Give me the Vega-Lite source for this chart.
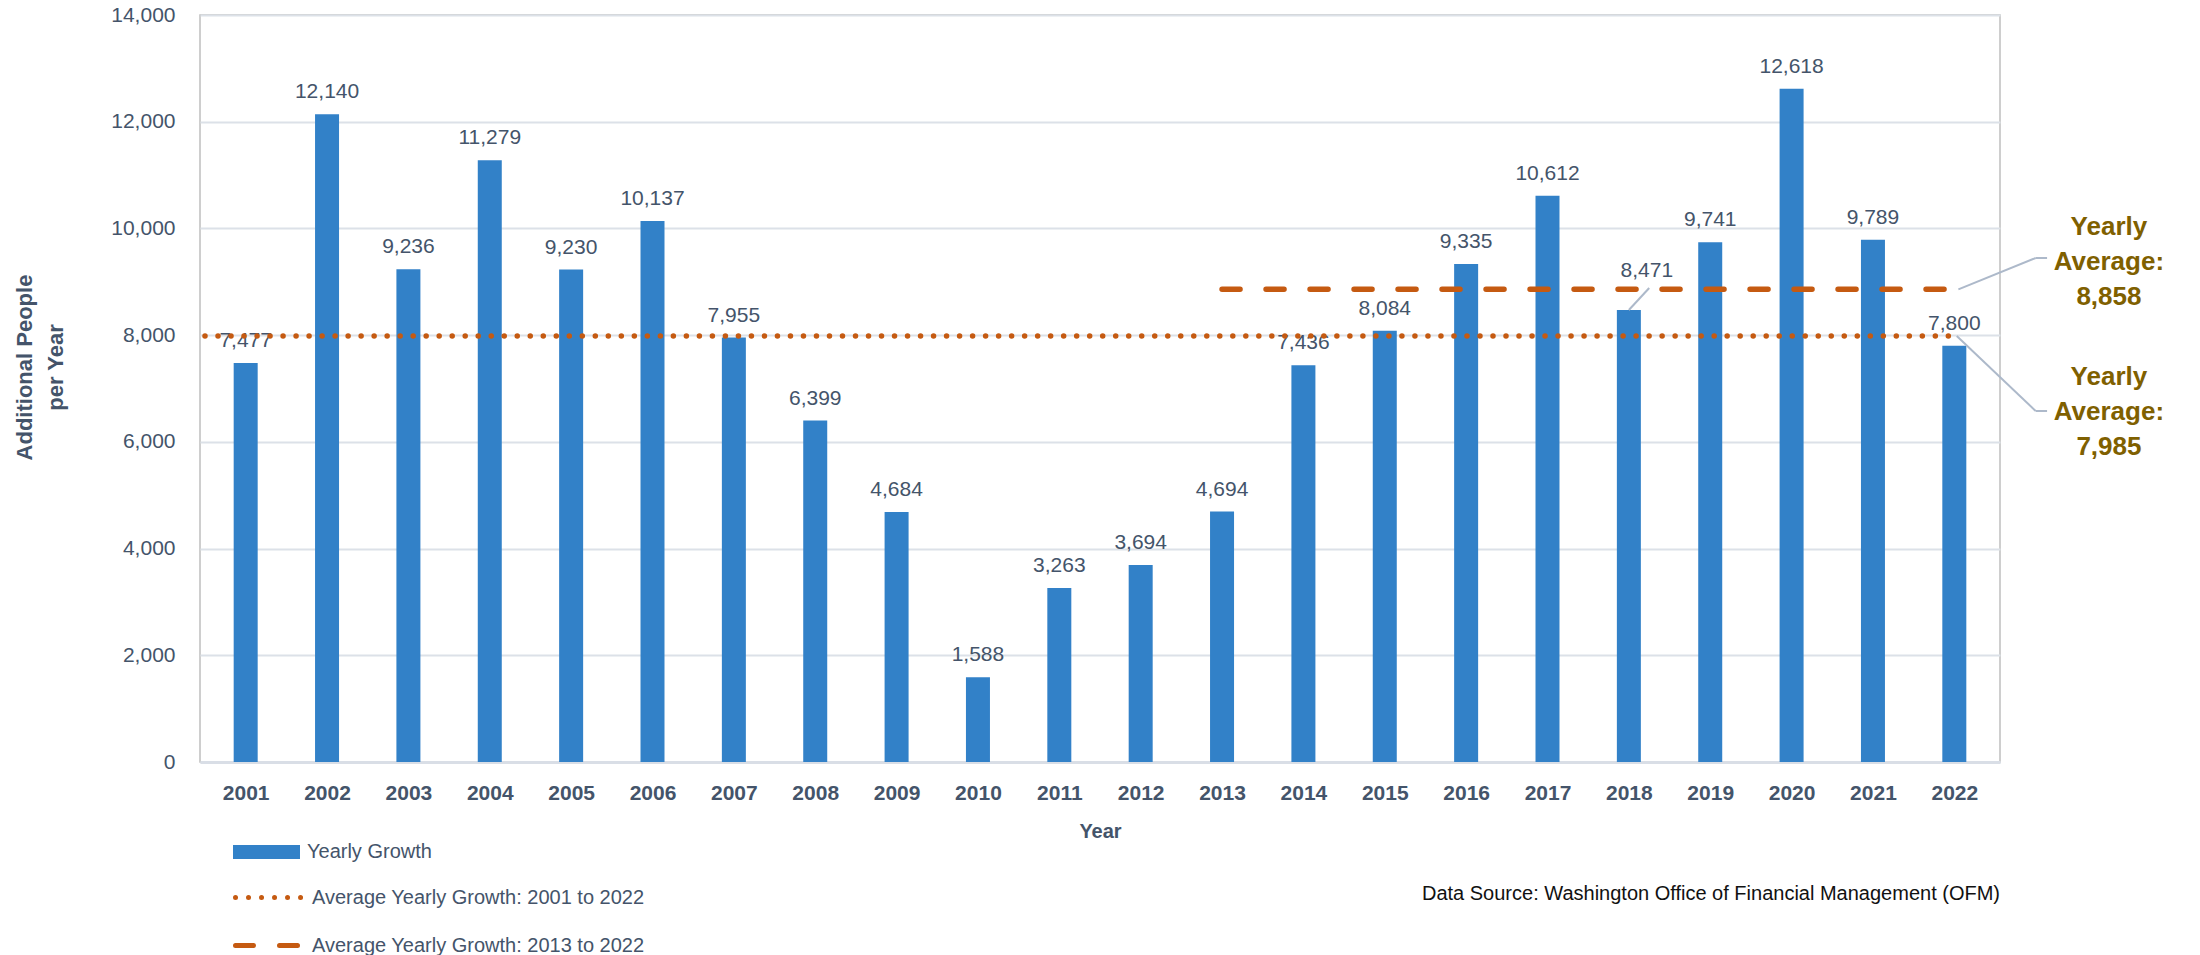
{
  "$schema": "https://vega.github.io/schema/vega-lite/v6.json",
  "width": 1800,
  "height": 747,
  "autosize": {"type": "none"},
  "padding": {"left": 200, "top": 15, "right": 200, "bottom": 193},
  "background": "white",
  "config": {
    "font": "Liberation Sans",
    "view": {"stroke": "#BFBFBF", "strokeWidth": 1.5}
  },
  "title": {
    "text": "Data Source: Washington Office of Financial Management (OFM)",
    "orient": "bottom",
    "anchor": "end",
    "frame": "group",
    "fontSize": 20,
    "fontWeight": "normal",
    "color": "#111111",
    "font": "Liberation Sans",
    "offset": -72
  },
  "datasets": {
    "growth": [
      {"year": 2001, "value": 7477},
      {"year": 2002, "value": 12140},
      {"year": 2003, "value": 9236},
      {"year": 2004, "value": 11279},
      {"year": 2005, "value": 9230},
      {"year": 2006, "value": 10137},
      {"year": 2007, "value": 7955},
      {"year": 2008, "value": 6399},
      {"year": 2009, "value": 4684},
      {"year": 2010, "value": 1588},
      {"year": 2011, "value": 3263},
      {"year": 2012, "value": 3694},
      {"year": 2013, "value": 4694},
      {"year": 2014, "value": 7436},
      {"year": 2015, "value": 8084},
      {"year": 2016, "value": 9335},
      {"year": 2017, "value": 10612},
      {"year": 2018, "value": 8471},
      {"year": 2019, "value": 9741},
      {"year": 2020, "value": 12618},
      {"year": 2021, "value": 9789},
      {"year": 2022, "value": 7800}
    ],
    "averages": [
      {"series": "Average Yearly Growth: 2001 to 2022", "year": 2000.5, "year_end": 2022, "value": 7985},
      {"series": "Average Yearly Growth: 2013 to 2022", "year": 2013, "year_end": 2022, "value": 8858}
    ],
    "leaders": [
      {"year": 2018, "value": 8471, "year_end": 2018.25, "value_end": 8884},
      {"year": 2022.05, "value": 8858, "year_end": 2023.0, "value_end": 9446},
      {"year": 2023.0, "value": 9446, "year_end": 2023.14, "value_end": 9446},
      {"year": 2022.03, "value": 7985, "year_end": 2023.0, "value_end": 6578},
      {"year": 2023.0, "value": 6578, "year_end": 2023.14, "value_end": 6578}
    ],
    "notes": [
      {"year": 2023.9, "value": 10027, "label": "Yearly\nAverage:\n8,858"},
      {"year": 2023.9, "value": 7216, "label": "Yearly\nAverage:\n7,985"}
    ]
  },
  "layer": [
    {
      "data": {"name": "growth"},
      "mark": {"type": "bar", "size": 24},
      "encoding": {
        "x": {
          "field": "year",
          "type": "quantitative",
          "scale": {"domain": [2000.5, 2022.5], "nice": false, "zero": false},
          "axis": {
            "title": "Year",
            "values": [2001, 2002, 2003, 2004, 2005, 2006, 2007, 2008, 2009, 2010, 2011, 2012, 2013, 2014, 2015, 2016, 2017, 2018, 2019, 2020, 2021, 2022],
            "format": "d",
            "grid": false,
            "ticks": false,
            "domain": true,
            "domainColor": "#D9DEE6",
            "domainWidth": 3,
            "labelFontSize": 21,
            "labelFontWeight": "bold",
            "labelColor": "#44546A",
            "labelPadding": 20,
            "labelFlush": false,
            "titleFontSize": 20,
            "titleFontWeight": "bold",
            "titleColor": "#44546A",
            "titlePadding": 18
          }
        },
        "y": {
          "field": "value",
          "type": "quantitative",
          "scale": {"domain": [0, 14000], "nice": false},
          "axis": {
            "title": ["Additional People", "per Year"],
            "values": [0, 2000, 4000, 6000, 8000, 10000, 12000, 14000],
            "format": ",d",
            "ticks": false,
            "domain": false,
            "gridColor": "#DCE1E8",
            "gridWidth": 2,
            "labelFontSize": 21,
            "labelColor": "#44546A",
            "labelPadding": 25,
            "titleFontSize": 22,
            "titleFontWeight": "bold",
            "titleColor": "#44546A",
            "titleLineHeight": 31,
            "titleAngle": -90,
            "titleX": -176,
            "titleY": 352,
            "titleAlign": "center",
            "titleBaseline": "middle"
          }
        },
        "fill": {
          "datum": "Yearly Growth",
          "type": "nominal",
          "scale": {"range": ["#3281C8"]},
          "legend": {
            "orient": "none",
            "legendX": 33,
            "legendY": 827,
            "title": null,
            "symbolType": "M-1,-0.7H5.7V0.7H-1Z",
            "symbolSize": 400,
            "symbolStrokeWidth": 0,
            "labelFontSize": 20,
            "labelColor": "#44546A",
            "labelOffset": 54,
            "labelLimit": 0,
            "padding": 0
          }
        }
      }
    },
    {
      "data": {"name": "growth"},
      "transform": [{"filter": "datum.year != 2018"}],
      "mark": {"type": "text", "baseline": "alphabetic", "dy": -16, "fontSize": 21, "color": "#44546A"},
      "encoding": {
        "x": {"field": "year", "type": "quantitative"},
        "y": {"field": "value", "type": "quantitative"},
        "text": {"field": "value", "type": "quantitative", "format": ",d"}
      }
    },
    {
      "data": {"name": "growth"},
      "transform": [{"filter": "datum.year == 2018"}],
      "mark": {"type": "text", "baseline": "alphabetic", "dx": 18, "dy": -33, "fontSize": 21, "color": "#44546A"},
      "encoding": {
        "x": {"field": "year", "type": "quantitative"},
        "y": {"field": "value", "type": "quantitative"},
        "text": {"field": "value", "type": "quantitative", "format": ",d"}
      }
    },
    {
      "data": {"name": "averages"},
      "mark": {"type": "rule", "strokeWidth": 5.5, "color": "#C55A11", "strokeCap": "round"},
      "encoding": {
        "x": {"field": "year", "type": "quantitative"},
        "x2": {"field": "year_end"},
        "y": {"field": "value", "type": "quantitative"},
        "strokeDash": {
          "field": "series",
          "type": "nominal",
          "scale": {
            "domain": ["Average Yearly Growth: 2001 to 2022", "Average Yearly Growth: 2013 to 2022"],
            "range": [[0.01, 13], [18, 26]]
          },
          "legend": {
            "orient": "none",
            "legendX": 33,
            "legendY": 870,
            "title": null,
            "symbolType": "M-1,0H5.7",
            "symbolSize": 400,
            "symbolStrokeWidth": 5,
            "symbolStrokeColor": "#C55A11",
            "symbolFillColor": "transparent",
            "labelFontSize": 20,
            "labelColor": "#44546A",
            "labelOffset": 54,
            "labelLimit": 0,
            "rowPadding": 25,
            "padding": 0,
            "encode": {"symbols": {"update": {"strokeCap": {"value": "round"}}}}
          }
        }
      }
    },
    {
      "data": {"name": "leaders"},
      "mark": {"type": "rule", "strokeWidth": 2, "color": "#ADB9CA"},
      "encoding": {
        "x": {"field": "year", "type": "quantitative"},
        "x2": {"field": "year_end"},
        "y": {"field": "value", "type": "quantitative"},
        "y2": {"field": "value_end"}
      }
    },
    {
      "data": {"name": "notes"},
      "mark": {"type": "text", "align": "center", "baseline": "middle", "fontSize": 26, "fontWeight": "bold", "color": "#7F6000", "lineHeight": 35, "lineBreak": "\n"},
      "encoding": {
        "x": {"field": "year", "type": "quantitative"},
        "y": {"field": "value", "type": "quantitative"},
        "text": {"field": "label", "type": "nominal"}
      }
    }
  ]
}
